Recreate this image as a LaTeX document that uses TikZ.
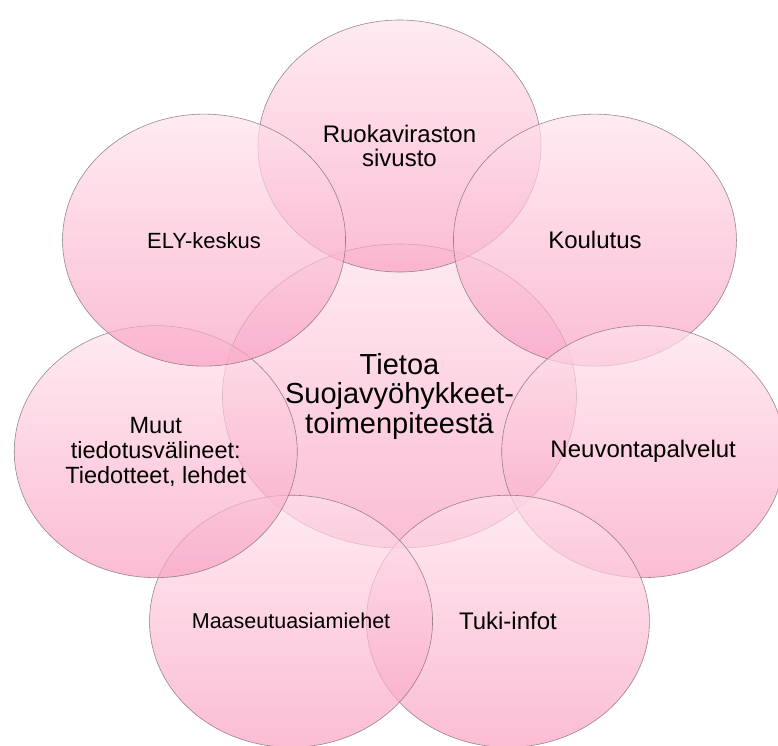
\documentclass[tikz,border=0pt]{standalone}
\usepackage{fontspec}
\setmainfont{Liberation Sans}
\usetikzlibrary{shapes.geometric}
\definecolor{bubbletop}{RGB}{255,226,236}
\definecolor{bubblebottom}{RGB}{249,160,194}
\definecolor{bubbleline}{RGB}{125,110,118}

\begin{document}
\begin{tikzpicture}[x=1pt, y=1pt,
    bubble/.style={ellipse, inner sep=0pt, top color=bubbletop, bottom color=bubblebottom,
        fill opacity=0.7, text opacity=1, draw=bubbleline, draw opacity=0.8, line width=0.6pt,
        align=center, minimum width=283pt, minimum height=252pt,
        font=\fontsize{24}{24}\selectfont},
    hub/.style={bubble, minimum width=354pt, minimum height=304pt,
        font=\fontsize{29}{29.5}\selectfont}]
    \useasboundingbox (-399.5,-349) rectangle (378.5,396);
    \clip (-399.5,-349) rectangle (378.5,396);
    \node[hub] (info) at (0,0) {Tietoa\\Suojavyöhykkeet-\\toimenpiteestä};
    \node[bubble] (ruoka) at (90:250) {Ruokaviraston\\sivusto};
    \node[bubble] (koulutus) at (38.57:250) {Koulutus};
    \node[bubble] (neuvonta) at (-12.86:250) {Neuvontapalvelut};
    \node[bubble] (tuki) at (-64.29:250) {Tuki-infot};
    \node[bubble, font=\fontsize{21.5}{24}\selectfont] (maaseutu) at (-115.71:250) {Maaseutuasiamiehet};
    \node[bubble, font=\fontsize{23.5}{25}\selectfont] (muut) at (-167.14:250) {Muut\\tiedotusvälineet:\\Tiedotteet, lehdet};
    \node[bubble, font=\fontsize{22}{24}\selectfont] (ely) at (141.43:250) {ELY-keskus};
\end{tikzpicture}
\end{document}
